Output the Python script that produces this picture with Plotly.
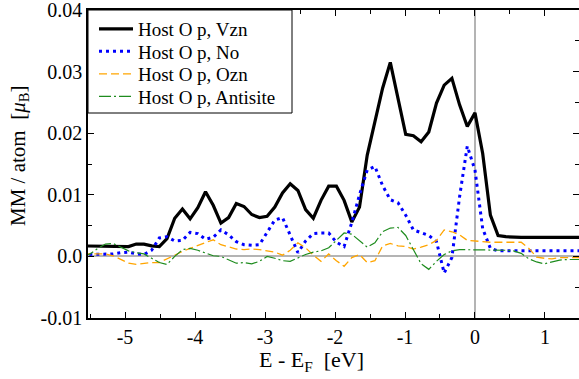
import plotly.graph_objects as go

# Energy grid (eV, relative to E_F)
energy = [-5.61, -5.50, -5.39, -5.28, -5.17, -5.06, -4.95, -4.84, -4.73, -4.62,
          -4.51, -4.40, -4.29, -4.18, -4.07, -3.96, -3.85, -3.74, -3.63, -3.52,
          -3.41, -3.30, -3.19, -3.08, -2.97, -2.86, -2.75, -2.64, -2.53, -2.42,
          -2.31, -2.20, -2.09, -1.98, -1.87, -1.76, -1.65, -1.54, -1.43, -1.32,
          -1.21, -1.10, -0.99, -0.88, -0.77, -0.66, -0.55, -0.44, -0.33, -0.22,
          -0.11, 0.00, 0.11, 0.22, 0.33, 0.44, 0.55, 0.66, 0.77, 0.88,
          0.99, 1.10, 1.21, 1.32, 1.43, 1.54]

mm_vzn = [0.0017, 0.0017, 0.0016, 0.0016, 0.0016, 0.0016, 0.0016, 0.0020, 0.0020, 0.0017,
          0.0016, 0.0029, 0.0062, 0.0077, 0.0061, 0.0079, 0.0105, 0.0083, 0.0054, 0.0063,
          0.0086, 0.0081, 0.0068, 0.0063, 0.0065, 0.0080, 0.0103, 0.0118, 0.0107, 0.0076,
          0.0062, 0.0091, 0.0114, 0.0114, 0.0091, 0.0056, 0.0080, 0.0164, 0.0219, 0.0273,
          0.0315, 0.0257, 0.0198, 0.0196, 0.0186, 0.0202, 0.0249, 0.0278, 0.0289, 0.0246,
          0.0211, 0.0233, 0.0167, 0.0067, 0.0034, 0.0032, 0.0031, 0.0031, 0.0031, 0.0031,
          0.0031, 0.0031, 0.0031, 0.0031, 0.0031, 0.0031]

mm_no = [0.0003, 0.0003, 0.0003, 0.0003, 0.0004, 0.0006, 0.0007, 0.0004, 0.0003, 0.0010,
         0.0030, 0.0032, 0.0025, 0.0026, 0.0039, 0.0037, 0.0028, 0.0031, 0.0043, 0.0035,
         0.0024, 0.0019, 0.0018, 0.0019, 0.0038, 0.0059, 0.0063, 0.0033, 0.0006, 0.0025,
         0.0037, 0.0038, 0.0038, 0.0023, 0.0016, 0.0055, 0.0100, 0.0140, 0.0146, 0.0115,
         0.0092, 0.0087, 0.0067, 0.0043, 0.0039, 0.0034, 0.0024, -0.0027, -0.0002, 0.0097,
         0.0179, 0.0140, 0.0045, 0.0013, 0.0009, 0.0009, 0.0009, 0.0009, 0.0009, 0.0009,
         0.0009, 0.0009, 0.0009, 0.0009, 0.0009, 0.0009]

mm_ozn = [0.0004, 0.0004, 0.0005, 0.0004, 0.0001, -0.0005, -0.0011, -0.0013, -0.0011, -0.0010,
          -0.0010, -0.0004, 0.0003, 0.0008, 0.0013, 0.0018, 0.0022, 0.0027, 0.0019, 0.0015,
          0.0012, 0.0011, 0.0012, 0.0011, 0.0009, 0.0007, 0.0002, 0.0010, 0.0022, 0.0014,
          0.0002, -0.0008, 0.0004, -0.0007, -0.0016, -0.0002, 0.0003, -0.0010, -0.0007, 0.0017,
          0.0021, 0.0017, 0.0016, 0.0012, 0.0015, 0.0019, 0.0026, 0.0043, 0.0040, 0.0035,
          0.0026, 0.0025, 0.0023, 0.0023, 0.0023, 0.0023, 0.0023, 0.0023, 0.0013, -0.0001,
          -0.0003, -0.0004, -0.0002, -0.0002, -0.0002, -0.0002]

mm_antisite = [0.0000, 0.0004, 0.0013, 0.0020, 0.0021, 0.0015, 0.0009, 0.0006, 0.0004, -0.0003,
               -0.0010, -0.0013, 0.0000, 0.0011, 0.0013, 0.0010, 0.0005, 0.0001, 0.0000, -0.0005,
               -0.0011, -0.0010, -0.0012, -0.0008, 0.0000, -0.0003, -0.0007, -0.0008, -0.0002, 0.0003,
               0.0007, 0.0009, 0.0014, 0.0026, 0.0038, 0.0036, 0.0025, 0.0015, 0.0022, 0.0040,
               0.0046, 0.0047, 0.0034, 0.0010, -0.0012, -0.0021, -0.0008, 0.0003, 0.0009, 0.0011,
               0.0011, 0.0011, 0.0011, 0.0011, 0.0011, 0.0010, 0.0009, 0.0005, -0.0004, -0.0009,
               -0.0012, -0.0009, -0.0006, -0.0005, -0.0005, -0.0005]

series_names = ["Host O p, Vzn", "Host O p, No", "Host O p, Ozn", "Host O p, Antisite"]

y_tickvals = [-0.01, 0.0, 0.01, 0.02, 0.03, 0.04]
y_ticktext = ["-0.01", "0.0", "0.01", "0.02", "0.03", "0.04"]
x_tickvals = [-5, -4, -3, -2, -1, 0, 1]
x_ticktext = ["-5", "-4", "-3", "-2", "-1", "0", "1"]
x_title = "E - E<sub>F</sub>\u00a0\u00a0[eV]"
y_title = "MM / atom\u00a0\u00a0[<i>μ</i><sub>B</sub>]"

FONT = "Liberation Serif, Times New Roman, serif"

# geometry (pixels)
W, H = 579, 379
ML, MT, MB = 88, 10, 61
PW, PH = W - ML, H - MT - MB

def px_x(p):
    return (p - ML) / PW

def px_y(p):
    return 1 - (p - MT) / PH

styles = [
    dict(color="black", width=3.2),
    dict(color="#0000ff", width=3, dash="3px,4px"),
    dict(color="#ffa500", width=1.3, dash="8px,4px"),
    dict(color="#1e8c1e", width=1.2, dash="12px,3px,2px,3px"),
]
series = [mm_vzn, mm_no, mm_ozn, mm_antisite]
legend_ids = ["legend", "legend2", "legend3", "legend4"]
row_centers = [29, 51.5, 74, 96.5]

fig = go.Figure()
for vals, name, st, lid in zip(series, series_names, styles, legend_ids):
    fig.add_trace(go.Scatter(x=energy, y=vals, mode="lines", name=name,
                             line=st, legend=lid))

legend_common = dict(xanchor="left", yanchor="middle", bgcolor="rgba(0,0,0,0)",
                     borderwidth=0, font=dict(family=FONT, size=19),
                     itemwidth=34, tracegroupgap=0)
layout_legends = {}
for lid, rc in zip(legend_ids, row_centers):
    layout_legends[lid] = dict(x=px_x(94), y=px_y(rc), **legend_common)

fig.update_layout(
    width=W, height=H,
    margin=dict(l=ML, r=0, t=MT, b=MB, autoexpand=False),
    paper_bgcolor="white", plot_bgcolor="white",
    font=dict(family=FONT, color="black", size=20),
    showlegend=True,
    **layout_legends,
    shapes=[dict(type="rect", xref="paper", yref="paper", layer="above",
                 x0=0, x1=px_x(292), y0=px_y(113), y1=1,
                 line=dict(color="black", width=1), fillcolor="white")],
    annotations=[
        dict(text=x_title, xref="paper", yref="paper", x=px_x(257), y=px_y(361),
             xanchor="left", yanchor="middle", showarrow=False,
             font=dict(family=FONT, size=22)),
        dict(text=y_title, xref="paper", yref="paper", x=px_x(19), y=px_y(156),
             xanchor="center", yanchor="middle", showarrow=False, textangle=-90,
             font=dict(family=FONT, size=21)),
    ],
)
fig.update_xaxes(
    range=[-5.529, 1.486], tickvals=x_tickvals, ticktext=x_ticktext,
    ticks="inside", ticklen=6, tickwidth=1.2, tickcolor="black",
    minor=dict(dtick=0.5, ticks="inside", ticklen=4, tickwidth=1.2, tickcolor="black", showgrid=False),
    showline=True, linecolor="black", linewidth=1.5, mirror="ticks",
    showgrid=False, zeroline=True, zerolinecolor="#b4b4b4", zerolinewidth=1.5,
    tickfont=dict(family=FONT, size=20), ticklabeloverflow="allow",
)
fig.update_yaxes(
    range=[-0.01, 0.04], tickvals=y_tickvals, ticktext=y_ticktext,
    ticks="inside", ticklen=6, tickwidth=1.2, tickcolor="black",
    minor=dict(dtick=0.005, ticks="inside", ticklen=4, tickwidth=1.2, tickcolor="black", showgrid=False),
    showline=True, linecolor="black", linewidth=1.5, mirror="ticks",
    showgrid=False, zeroline=True, zerolinecolor="#b4b4b4", zerolinewidth=1.5,
    tickfont=dict(family=FONT, size=20), ticklabeloverflow="allow",
)

fig.write_html("out.html", config={"displayModeBar": False},
               post_script="document.body.style.margin='0';document.body.style.overflow='hidden';")
